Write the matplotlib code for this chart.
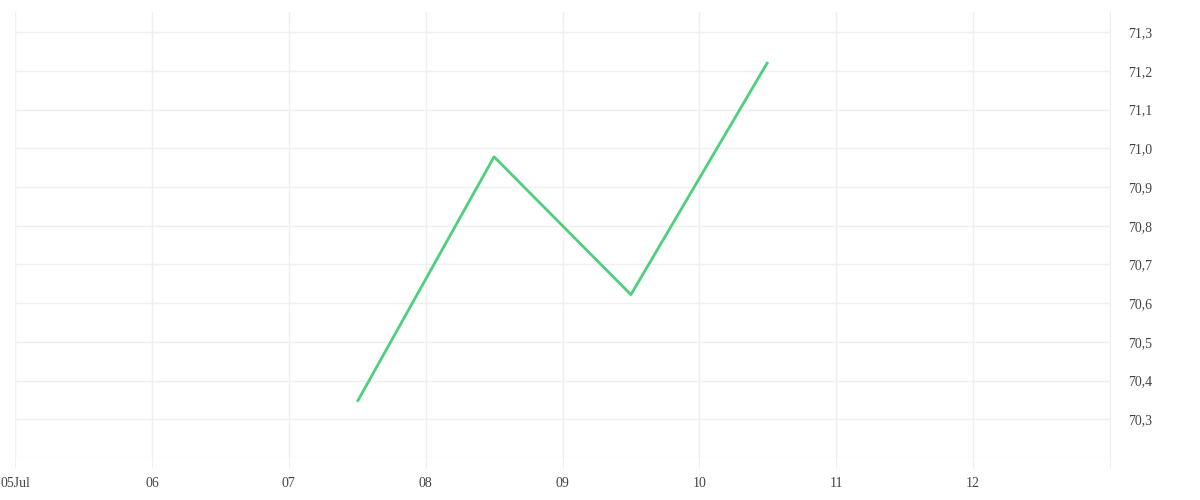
import matplotlib
matplotlib.use("Agg")
import matplotlib.pyplot as plt
from matplotlib.ticker import FuncFormatter, MultipleLocator
from datetime import datetime

# data
times = ["2024-07-07 12:00", "2024-07-08 12:00", "2024-07-09 12:00", "2024-07-10 12:00"]
values = [70.345, 70.978, 70.622, 71.223]

day_ticks = ["2024-07-%02d" % d for d in range(5, 14)]
day_labels = ["05Jul", "06", "07", "08", "09", "10", "11", "12", ""]

x = [datetime.strptime(t, "%Y-%m-%d %H:%M") for t in times]
xt = [datetime.strptime(t, "%Y-%m-%d") for t in day_ticks]

grid_c = "#efefef"
text_c = "#444444"

fig = plt.figure(figsize=(12, 5), dpi=100)
ax = fig.add_axes([0.0125, 0.084, 0.9125, 0.892])

ax.plot(x, values, color="#4cd07d", linewidth=2.0, solid_capstyle="butt")

ax.set_xlim(xt[0], xt[-1])
ax.set_ylim(70.2, 71.352)

ax.set_xticks(xt)
ax.set_xticklabels(day_labels)
ax.yaxis.set_major_locator(MultipleLocator(0.1))
ax.yaxis.set_major_formatter(FuncFormatter(
    lambda v, p: "" if v < 70.25 else ("%.1f" % v).replace(".", ",")))
ax.yaxis.tick_right()

ax.grid(True, color=grid_c, linewidth=1)
for s in ax.spines.values():
    s.set_visible(False)
ax.spines["right"].set_visible(True)
ax.spines["right"].set_color(grid_c)

ax.tick_params(axis="x", length=7.5, color=grid_c, pad=6,
               labelsize=10, labelcolor=text_c)
ax.tick_params(axis="y", length=0, pad=13, labelsize=10, labelcolor=text_c)
for lab in ax.get_xticklabels() + ax.get_yticklabels():
    lab.set_family(["Liberation Serif", "DejaVu Serif"])

fig.savefig("out.png", dpi=100, facecolor="white")
